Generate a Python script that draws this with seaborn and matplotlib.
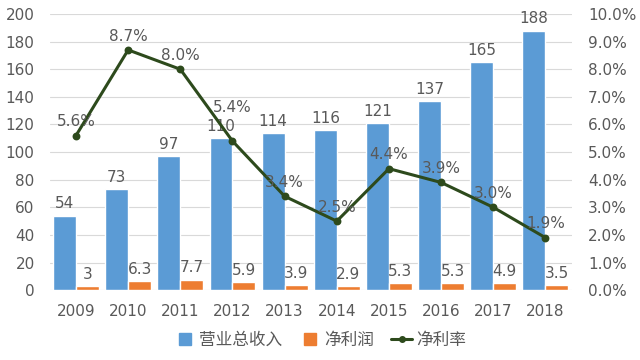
import pandas as pd
import matplotlib.pyplot as plt
import seaborn as sns
from matplotlib.lines import Line2D

years = ['2009', '2010', '2011', '2012', '2013', '2014', '2015', '2016', '2017', '2018']
revenue = [54, 73, 97, 110, 114, 116, 121, 137, 165, 188]
profit = [3, 6.3, 7.7, 5.9, 3.9, 2.9, 5.3, 5.3, 4.9, 3.5]
margin = [5.6, 8.7, 8.0, 5.4, 3.4, 2.5, 4.4, 3.9, 3.0, 1.9]
series_names = ['营业总收入', '净利润', '净利率']

blue = '#5B9BD5'
orange = '#ED7D31'
green = '#2D4A1C'
text_c = '#595959'

df = pd.DataFrame({
    'year': years * 2,
    'value': revenue + profit,
    'series': [series_names[0]] * len(years) + [series_names[1]] * len(years),
})

sns.set_theme(style='white')
plt.rcParams['font.family'] = ['DejaVu Sans', 'Noto Sans CJK SC']

fig = plt.figure(figsize=(6.4, 3.6), dpi=100)
ax = fig.add_axes([0.078, 0.194, 0.815, 0.767])
sns.barplot(data=df, x='year', y='value', hue='series', palette=[blue, orange],
            width=0.88, gap=0, saturation=1, legend=False, ax=ax)
for c in ax.containers:
    ax.bar_label(c, labels=[f'{b.get_height():g}' for b in c], padding=3,
                 fontsize=11, color=text_c)

ax.set_ylim(0, 200)
ax.set_yticks(range(0, 201, 20))
ax.grid(axis='y', color='#D9D9D9', lw=0.8)
ax.set_axisbelow(True)
ax.set_xlabel('')
ax.set_ylabel('')
ax.tick_params(length=0, labelsize=11, colors=text_c)
ax.tick_params(axis='y', pad=11)
ax.tick_params(axis='x', pad=10)
sns.despine(ax=ax, left=True, bottom=True)

# net margin on the right axis
ax2 = ax.twinx()
sns.pointplot(x=years, y=margin, color=green, markers='o', markersize=4,
              linewidth=2.2, ax=ax2)
ax2.set_ylim(0, 10)
ax2.set_yticks(range(0, 11))
ax2.set_yticklabels([f'{t:.1f}%' for t in range(0, 11)])
ax2.grid(False)
ax2.tick_params(length=0, labelsize=11, colors=text_c, pad=12)
sns.despine(ax=ax2, left=True, bottom=True, right=True)

offsets = [10, 10, 10, 24, 10, 10, 10, 10, 10, 10]
for i, m in enumerate(margin):
    ax2.annotate(f'{m:.1f}%', (i, m), xytext=(0, offsets[i]), textcoords='offset points',
                 ha='center', va='center', fontsize=11, color=text_c)

handles = [
    Line2D([], [], ls='none', marker='s', ms=9, color=blue),
    Line2D([], [], ls='none', marker='s', ms=9, color=orange),
    Line2D([], [], color=green, lw=2.2, marker='o', ms=4),
]
fig.legend(handles, series_names, loc='center', bbox_to_anchor=(0.5, 1 - 340 / 360),
           ncol=3, frameon=False, fontsize=12, labelcolor=text_c,
           handlelength=1.3, handletextpad=0.2, columnspacing=1.0)

fig.savefig('out.png', dpi=100)
